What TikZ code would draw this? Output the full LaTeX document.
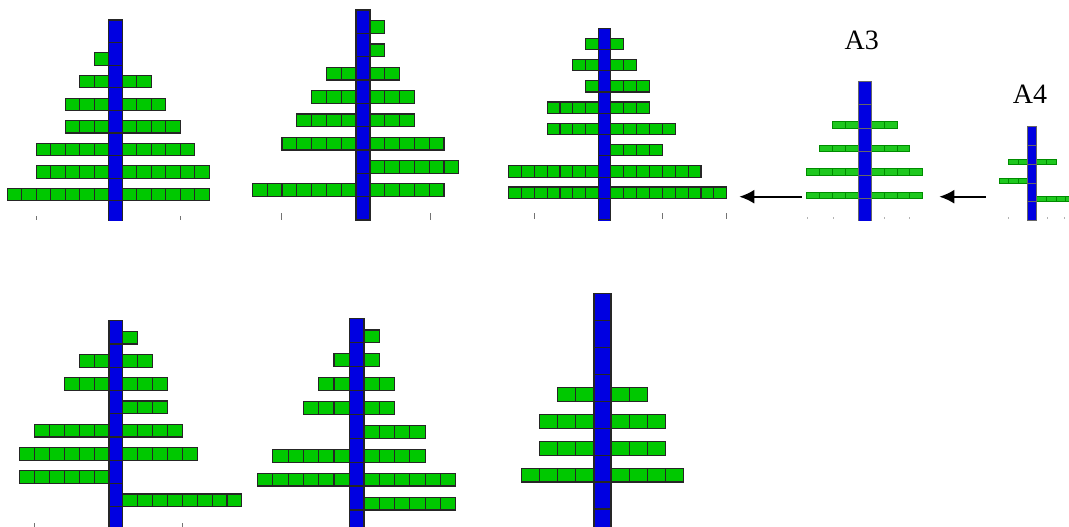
\documentclass[tikz,border=0pt]{standalone}
\usepackage{fontspec}
\setmainfont{Liberation Serif}
\usetikzlibrary{arrows.meta}
\definecolor{tb}{RGB}{0,0,225}
\definecolor{lg}{RGB}{0,200,0}
\definecolor{lg2}{RGB}{30,200,30}
\definecolor{dg}{RGB}{0,140,0}
\tikzset{
  trunk/.style={fill=tb,draw=black!85,line width=1.1pt},
  trunkthin/.style={fill=tb,draw=black!60,line width=0.5pt},
  cell/.style={fill=lg,draw=black!85,line width=1.1pt},
  cellthin/.style={fill=lg2,draw=dg,line width=0.5pt},
  tick/.style={draw=black!55,line width=0.8pt},
  arr/.style={draw=black,line width=2pt,-{Latex[length=15pt,width=14pt]}},
  lbl/.style={font=\fontsize{28}{30}\selectfont,anchor=base,inner sep=0pt}
}
% #1 trunk left, #2 trunk right, #3 top, #4 segment height, #5 bottom,
% #6 cell width, #7 branch height, #8 style suffix, #9 rows i/l/r
\newcommand{\drawtree}[9]{%
  \foreach \i/\l/\r in {#9} {
    \pgfmathsetmacro\yb{#3+\i*#4}
    \pgfmathsetmacro\yt{\yb-#7}
    \ifnum\l>0
      \foreach \j in {1,...,\l} {\draw[cell#8] ({#1-\j*#6},\yt) rectangle ({#1-(\j-1)*#6},\yb);}
    \fi
    \ifnum\r>0
      \foreach \j in {1,...,\r} {\draw[cell#8] ({#2+(\j-1)*#6},\yt) rectangle ({#2+\j*#6},\yb);}
    \fi
  }
  \begin{scope}
    \clip (#1-3,#3-3) rectangle (#2+3,#5);
    \foreach \k in {0,...,11} {\draw[trunk#8] (#1,{#3+\k*#4}) rectangle (#2,{#3+(\k+1)*#4});}
  \end{scope}
}
\begin{document}
\begin{tikzpicture}[x=1pt,y=-1pt]
\useasboundingbox (0,0) rectangle (1069,527);
% top row
\drawtree{108.7}{122.3}{20}{22.6}{220}{14.5}{12.3}{}{2/1/0,3/2/2,4/3/3,5/3/4,6/5/5,7/5/6,8/7/6}
\drawtree{356}{370}{10}{23.33}{220}{14.8}{12.7}{}{1/0/1,2/0/1,3/2/2,4/3/3,5/4/3,6/5/5,7/0/6,8/7/5}
\drawtree{598.7}{610.7}{28.3}{21.25}{220}{12.9}{11.3}{}{1/1/1,2/2/2,3/1/3,4/4/3,5/4/5,6/0/4,7/7/7,8/7/9}
\drawtree{858.3}{871}{81}{23.46}{220}{12.9}{6.3}{thin}{2/2/2,3/3/3,4/4/4,5/4/4}
\drawtree{1027.7}{1036.7}{126.7}{18.75}{220}{9.6}{5}{thin}{2/2/2,3/3/0,4/0/4}
% bottom row
\drawtree{109}{122.7}{320.7}{23.25}{527}{14.9}{12.7}{}{1/0/1,2/2/2,3/3/3,4/0/3,5/5/4,6/6/5,7/6/0,8/0/8}
\drawtree{349.3}{364}{318.3}{23.96}{527}{15.3}{12.3}{}{1/0/1,2/1/1,3/2/2,4/3/2,5/0/4,6/5/4,7/6/6,8/0/6}
\drawtree{594}{611}{293.3}{26.96}{527}{18.1}{13.5}{}{4/2/2,5/3/3,6/3/3,7/4/4}
% ticks
\foreach \x in {36,180} {\draw[tick] (\x,216) -- (\x,220);}
\foreach \x in {281,430} {\draw[tick] (\x,213) -- (\x,220);}
\foreach \x in {534,662.7,726.7} {\draw[tick] (\x,213) -- (\x,219);}
\foreach \x in {807,833,884,909} {\draw[tick,draw=black!30] (\x,217) -- (\x,219);}
\foreach \x in {1008,1047,1064} {\draw[tick,draw=black!30] (\x,217) -- (\x,219);}
\foreach \x in {34,182} {\draw[tick] (\x,523) -- (\x,527);}
% labels
\node[lbl] (A3) at (861.7,50) {A3};
\node[lbl] (A4) at (1030,103.3) {A4};
% arrows
\coordinate (a3L) at (801.7,196.7);
\coordinate (t3R) at (739.3,196.7);
\coordinate (a4L) at (985.7,196.7);
\coordinate (a3R) at (939.3,196.7);
\draw[arr] (a3L) -- (t3R);
\draw[arr] (a4L) -- (a3R);
\end{tikzpicture}
\end{document}
